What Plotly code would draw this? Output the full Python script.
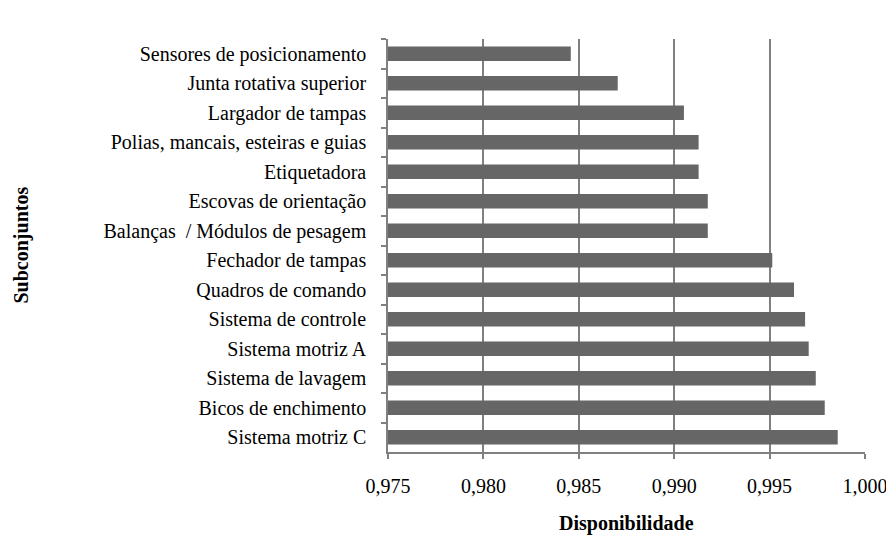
import plotly.graph_objects as go

subconjuntos = [
    "Sensores de posicionamento",
    "Junta rotativa superior",
    "Largador de tampas",
    "Polias, mancais, esteiras e guias",
    "Etiquetadora",
    "Escovas de orientação",
    "Balanças  / Módulos de pesagem",
    "Fechador de tampas",
    "Quadros de comando",
    "Sistema de controle",
    "Sistema motriz A",
    "Sistema de lavagem",
    "Bicos de enchimento",
    "Sistema motriz C",
]
disponibilidade = [
    0.98458, 0.98704, 0.99051, 0.99128, 0.99128, 0.99176, 0.99176,
    0.99514, 0.99628, 0.99686, 0.99705, 0.99742, 0.99789, 0.99857,
]
x_ticks = [0.975, 0.980, 0.985, 0.990, 0.995, 1.000]

FONT = "Liberation Serif"
GRID = "#808080"

fig = go.Figure(go.Bar(
    x=disponibilidade,
    y=subconjuntos,
    orientation="h",
    marker=dict(color="#666666", line=dict(width=0)),
))

# page body has an 8px margin, so the figure is sized to fill the rest
fig.update_layout(
    width=886, height=528,
    margin=dict(l=380, r=29, t=31, b=84),
    paper_bgcolor="white", plot_bgcolor="white",
    separators=",.",
    bargap=0.51,
    showlegend=False,
    font=dict(family=FONT, size=20, color="black"),
)
fig.update_xaxes(
    range=[0.975, 1.000],
    tickvals=x_ticks,
    tickformat=".3f",
    automargin=False,
    showgrid=True, gridcolor=GRID, gridwidth=1.5,
    showline=True, linecolor=GRID, linewidth=1.5,
    ticks="outside", ticklen=5, tickcolor=GRID, tickwidth=1.5,
    ticklabelstandoff=10,
    zeroline=False,
)
fig.update_yaxes(
    autorange="reversed",
    automargin=False,
    showgrid=False,
    showline=True, linecolor=GRID, linewidth=1.5,
    ticks="outside", ticklen=5, tickcolor=GRID, tickwidth=1.5,
    tickson="boundaries",
    ticklabelstandoff=16,
)
fig.add_annotation(
    text="<b>Disponibilidade</b>",
    xref="paper", yref="paper", x=0.5, y=0, yshift=-71,
    xanchor="center", yanchor="middle", showarrow=False,
    font=dict(family=FONT, size=20),
)
fig.add_annotation(
    text="<b>Subconjuntos</b>", textangle=-90,
    xref="paper", yref="paper", x=0, y=0.5, xshift=-367,
    xanchor="center", yanchor="middle", showarrow=False,
    font=dict(family=FONT, size=20),
)

fig.write_html("out.html")
